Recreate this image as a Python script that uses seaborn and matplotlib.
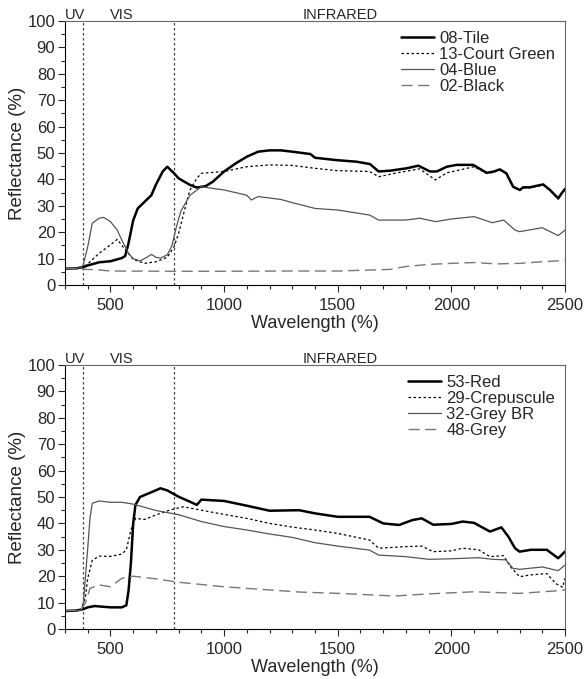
import numpy as np
import pandas as pd
import matplotlib
matplotlib.use("Agg")
import matplotlib.pyplot as plt
from matplotlib.ticker import MultipleLocator
from matplotlib.transforms import blended_transform_factory
import seaborn as sns

# ---- top panel spectra ----
tile_wl = [300, 350, 380, 400, 450, 500, 550, 565, 580, 600, 620, 650, 680, 700, 730, 750,
           780, 800, 850, 880, 920, 950, 1000, 1050, 1100, 1150, 1200, 1250, 1300, 1380,
           1400, 1495, 1583, 1642, 1680, 1730, 1803, 1855, 1906, 1936, 1980, 2023, 2096,
           2155, 2184, 2213, 2242, 2272, 2301, 2316, 2345, 2404, 2434, 2470, 2485, 2500]
tile_r = [6.2, 6.3, 6.8, 7.4, 8.6, 9.0, 10.2, 11.0, 16.0, 24.5, 29.0, 31.5, 34.0, 38.0, 43.0, 44.8,
          42.3, 40.4, 37.9, 36.9, 37.5, 39.1, 43.0, 46.0, 48.6, 50.5, 51.0, 51.0, 50.5, 49.6,
          48.2, 47.3, 46.7, 45.8, 43.0, 43.3, 44.2, 45.2, 43.0, 43.0, 44.8, 45.5, 45.5,
          42.5, 42.9, 43.8, 42.3, 37.2, 36.0, 37.0, 37.0, 38.1, 36.0, 32.8, 34.7, 36.4]

green_wl = [300, 350, 380, 400, 450, 500, 530, 560, 600, 650, 700, 750, 780, 800, 830, 850,
            880, 900, 1000, 1100, 1200, 1300, 1400, 1500, 1640, 1680, 1750, 1860, 1930, 1980,
            2100, 2155, 2184, 2213, 2242, 2272, 2301, 2316, 2345, 2404, 2434, 2470, 2485, 2500]
green_r = [6.2, 6.3, 6.8, 8.0, 12.0, 15.2, 17.3, 13.9, 9.7, 8.2, 8.8, 10.5, 14.5, 19.6, 29.7, 36.0,
           40.4, 42.3, 43.0, 44.8, 45.5, 45.3, 44.2, 43.3, 43.0, 41.0, 42.3, 44.0, 39.8, 42.5,
           44.8, 42.3, 42.7, 43.6, 42.1, 37.0, 35.8, 36.8, 36.8, 37.9, 35.8, 32.6, 34.5, 36.2]

blue_wl = [300, 350, 370, 380, 400, 420, 450, 470, 500, 530, 550, 580, 600, 630, 660, 680,
           700, 720, 750, 770, 790, 810, 850, 900, 1000, 1100, 1120, 1150, 1250, 1300, 1400,
           1500, 1640, 1680, 1800, 1860, 1930, 2000, 2100, 2180, 2230, 2280, 2300, 2400,
           2470, 2500]
blue_r = [6.2, 6.3, 6.6, 7.5, 14.5, 23.4, 25.3, 25.6, 24.0, 20.8, 17.0, 12.0, 10.0, 9.1, 10.5, 11.6,
          10.5, 10.2, 11.4, 14.8, 22.0, 28.0, 34.0, 37.2, 36.0, 34.0, 32.2, 33.5, 32.4, 31.2, 29.0,
          28.4, 26.5, 24.6, 24.6, 25.3, 24.0, 25.0, 25.9, 23.6, 24.6, 20.8, 20.2, 21.7,
          18.7, 20.8]

black_wl = [300, 350, 380, 450, 500, 800, 1000, 1300, 1500, 1730, 1800, 1900, 2000, 2100,
            2200, 2300, 2400, 2500]
black_r = [6.3, 6.2, 6.0, 5.7, 5.3, 5.2, 5.2, 5.3, 5.3, 5.9, 7.0, 7.8, 8.2, 8.5,
           8.0, 8.2, 8.8, 9.3]

# ---- bottom panel spectra ----
red_wl = [300, 350, 380, 400, 430, 500, 550, 570, 580, 590, 600, 610, 630, 680, 720, 750,
          800, 850, 880, 900, 1000, 1100, 1200, 1330, 1400, 1500, 1640, 1700, 1770, 1830,
          1870, 1920, 2000, 2050, 2100, 2170, 2220, 2250, 2280, 2300, 2350, 2420, 2470, 2500]
red_r = [6.8, 7.0, 7.5, 8.2, 8.7, 8.2, 8.2, 9.0, 14.8, 25.0, 40.0, 47.0, 50.0, 51.8, 53.3, 52.5,
         50.1, 48.2, 47.0, 49.0, 48.5, 46.7, 44.8, 45.0, 43.8, 42.5, 42.5, 40.0, 39.4, 41.3,
         41.9, 39.5, 39.8, 40.7, 40.2, 36.9, 38.5, 35.1, 30.6, 29.3, 30.0, 30.0, 26.8, 29.3]

crep_wl = [300, 350, 370, 390, 400, 420, 450, 500, 550, 570, 590, 610, 650, 700, 760, 820,
           900, 1000, 1100, 1200, 1300, 1400, 1500, 1640, 1680, 1800, 1870, 1920, 2000, 2050,
           2120, 2170, 2230, 2260, 2300, 2350, 2420, 2460, 2490, 2500]
crep_r = [7.0, 7.0, 7.2, 12.2, 19.2, 26.0, 27.6, 27.5, 28.4, 30.0, 37.5, 41.9, 41.5, 43.2, 45.0, 46.3,
          45.0, 43.4, 41.9, 40.0, 38.6, 37.5, 36.2, 33.7, 30.6, 31.2, 31.4, 29.3, 29.6, 30.6,
          30.0, 27.4, 27.8, 23.6, 19.8, 20.5, 21.0, 17.2, 15.8, 19.2]

greybr_wl = [300, 350, 370, 380, 400, 410, 420, 450, 500, 550, 600, 700, 800, 900, 1000, 1100,
             1200, 1300, 1400, 1500, 1640, 1680, 1800, 1900, 2000, 2120, 2180, 2240, 2270,
             2300, 2400, 2470, 2500]
greybr_r = [7.0, 7.0, 7.2, 9.0, 30.6, 42.0, 47.6, 48.5, 48.0, 48.0, 47.3, 44.9, 43.3, 40.7, 38.8, 37.5,
            36.0, 34.7, 32.7, 31.4, 29.9, 28.0, 27.4, 26.4, 26.6, 27.0, 26.4, 26.2, 23.0,
            22.6, 23.5, 22.1, 24.2]

grey_wl = [300, 350, 370, 390, 410, 450, 500, 550, 600, 700, 800, 1000, 1200, 1330, 1500, 1750,
           1900, 2100, 2300, 2470, 2500]
grey_r = [7.0, 7.0, 7.2, 10.0, 15.4, 16.7, 16.0, 19.2, 20.0, 19.0, 17.7, 16.0, 14.8, 14.0, 13.5, 12.5,
          13.3, 14.1, 13.5, 14.5, 14.8]

top_names = ["08-Tile", "13-Court Green", "04-Blue", "02-Black"]
bottom_names = ["53-Red", "29-Crepuscule", "32-Grey BR", "48-Grey"]
region_labels = ["UV", "VIS", "INFRARED"]
region_label_x = [300, 498, 1347]
region_bounds = [380, 780]

sns.set_style("ticks")
plt.rcParams["font.family"] = ["Liberation Sans", "DejaVu Sans"]

line_styles = [
    dict(color="black", lw=1.8, ls="-"),
    dict(color="black", lw=0.9, ls=(0, (2, 2))),
    dict(color="#555555", lw=0.9, ls="-"),
    dict(color="#777777", lw=1.0, ls=(0, (8, 4))),
]


def frame(names, wls, vals):
    parts = []
    for n, w, v in zip(names, wls, vals):
        parts.append(pd.DataFrame({"Wavelength": w, "Reflectance": v, "Sample": n}))
    return pd.concat(parts, ignore_index=True)


def draw(ax, df, names):
    for name, st in zip(names, line_styles):
        sub = df[df["Sample"] == name]
        sns.lineplot(data=sub, x="Wavelength", y="Reflectance", ax=ax,
                     color=st["color"], linewidth=st["lw"], linestyle=st["ls"],
                     label=name, sort=True, estimator=None)
    for b in region_bounds:
        ax.axvline(b, color="#444444", lw=0.9, ls=(0, (2, 2)), zorder=0)
    tr = blended_transform_factory(ax.transData, ax.transAxes)
    for lab, x in zip(region_labels, region_label_x):
        ax.text(x, 1.006, lab, transform=tr, ha="left", va="baseline", fontsize=10.5)
    ax.set_xlim(300, 2500)
    ax.set_ylim(0, 100)
    ax.xaxis.set_major_locator(MultipleLocator(500))
    ax.xaxis.set_minor_locator(MultipleLocator(100))
    ax.yaxis.set_major_locator(MultipleLocator(10))
    ax.yaxis.set_minor_locator(MultipleLocator(5))
    ax.tick_params(which="major", direction="out", length=5, width=0.8, labelsize=12, pad=2)
    ax.tick_params(axis="x", which="major", pad=4)
    ax.tick_params(which="minor", direction="out", length=3, width=0.8)
    ax.set_xlabel("Wavelength (%)", fontsize=13, labelpad=2)
    ax.set_ylabel("Reflectance (%)", fontsize=13.5, labelpad=1)
    for s in ["top", "right"]:
        ax.spines[s].set_color("#666666")
        ax.spines[s].set_linewidth(0.8)
    for s in ["left", "bottom"]:
        ax.spines[s].set_color("black")
        ax.spines[s].set_linewidth(0.8)
    ax.legend(loc="upper right", frameon=False, fontsize=12, handlelength=2.0,
              handletextpad=0.3, labelspacing=0.06, borderaxespad=0.2,
              bbox_to_anchor=(1.0, 1.0))


fig = plt.figure(figsize=(5.84, 6.79), dpi=100)
ax1 = fig.add_axes([65 / 584, 1 - 285 / 679, 500 / 584, 264 / 679])
ax2 = fig.add_axes([65 / 584, 1 - 629 / 679, 500 / 584, 264 / 679])

top_df = frame(top_names, [tile_wl, green_wl, blue_wl, black_wl],
               [tile_r, green_r, blue_r, black_r])
bottom_df = frame(bottom_names, [red_wl, crep_wl, greybr_wl, grey_wl],
                  [red_r, crep_r, greybr_r, grey_r])

draw(ax1, top_df, top_names)
draw(ax2, bottom_df, bottom_names)

fig.savefig("out.png", dpi=100, facecolor="white")
